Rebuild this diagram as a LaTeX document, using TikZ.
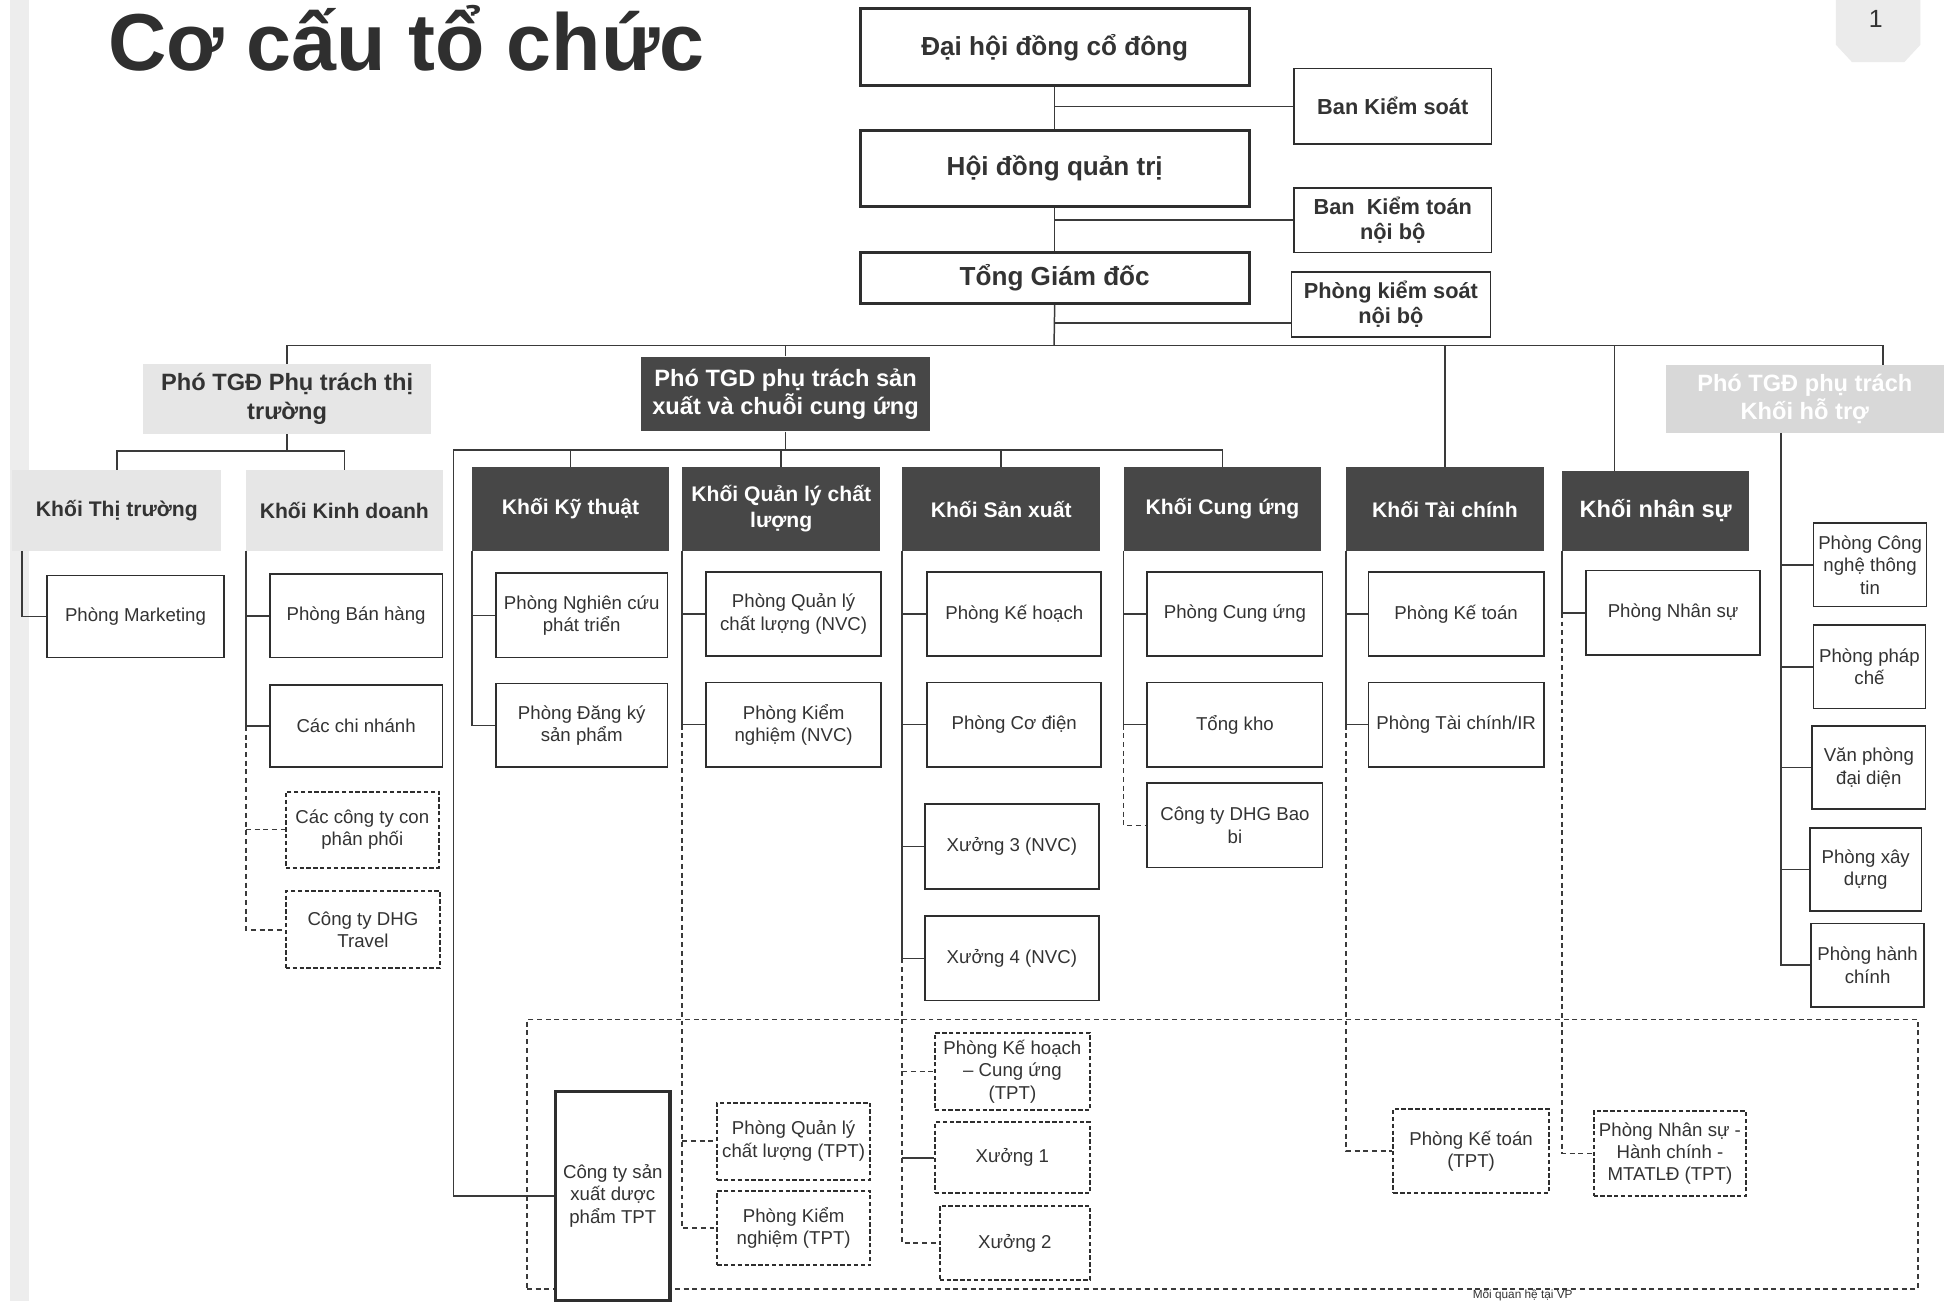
\documentclass[tikz,border=0pt]{standalone}
\usepackage{fontspec}
\setmainfont{Liberation Sans}
\usetikzlibrary{calc}
\definecolor{txt}{HTML}{333333}
\definecolor{titlec}{HTML}{2F2F2F}
\definecolor{boxc}{HTML}{2E2E2E}
\definecolor{linec}{HTML}{3A3A3A}
\definecolor{darkc}{HTML}{474747}
\definecolor{lightc}{HTML}{E6E6E6}
\definecolor{lightc2}{HTML}{D8D8D8}
\definecolor{stripc}{HTML}{EDEDED}
\definecolor{badgec}{HTML}{EBEBEB}
\tikzset{
  spot/.style n args={4}{minimum width={(#3-#1)*1pt}, minimum height={(#4-#2)*1pt}, at={({(#1+#3)/2},{(#2+#4)/2})}},
  ln/.style={draw=linec, line width=1.2pt},
  dln/.style={draw=linec, line width=1.2pt, dash pattern=on 4pt off 3pt},
  basebox/.style={inner sep=0pt, align=center, text=txt, rectangle},
  mainbox/.style={basebox, draw=boxc, line width=2.6pt, fill=white, font=\bfseries\fontsize{21}{25}\selectfont},
  sidebox/.style={basebox, draw=boxc, line width=1.3pt, fill=white, font=\bfseries\fontsize{17.5}{20}\selectfont},
  leaf/.style={basebox, draw=boxc, line width=1.3pt, fill=white, font=\fontsize{15}{18}\selectfont},
  dleaf/.style={leaf, line width=1.6pt, dash pattern=on 3.5pt off 2pt},
  tptbox/.style={leaf, line width=2.6pt},
  zone/.style={draw=linec, line width=1.2pt, dash pattern=on 4pt off 3pt, inner sep=0pt, rectangle},
  darkhead/.style={basebox, fill=darkc, text=white},
  lighthead/.style={basebox, fill=lightc, text=txt},
  lighthead2/.style={basebox, fill=lightc2, text=white},
  kfont/.style={font=\bfseries\fontsize{17}{21}\selectfont},
  phofont/.style={font=\bfseries\fontsize{19}{23}\selectfont},
}
\begin{document}
\begin{tikzpicture}[x=1pt,y=-1pt]
\useasboundingbox (0,0) rectangle (1568,1047);
\fill[white] (0,0) rectangle (1568,1047);
\fill[stripc] (8,0) rectangle (23,1047);
\fill[badgec] (1477,0) -- (1545,0) -- (1545,36) -- (1532,50) -- (1490,50) -- (1477,36) -- cycle;
\node[font=\fontsize{20}{22}\selectfont, text=txt] (pg) at (1509,15) {1};

% title
\node[anchor=base west, inner sep=0pt, font=\bfseries\fontsize{65}{72}\selectfont, text=titlec] (title) at (87,57) {Cơ cấu tổ chức};

% TPT zone
\node[zone, spot={424}{820}{1543}{1037}] (zone) {};

% top
\node[mainbox, spot={692}{7}{1005}{69}] (dh) {Đại hội đồng cổ đông};
\node[mainbox, spot={692}{105}{1005}{166}] (hd) {Hội đồng quản trị};
\node[mainbox, spot={692}{203}{1005}{244}] (tgd) {Tổng Giám đốc};
\node[sidebox, spot={1041}{55}{1200}{116}] (bks) {Ban Kiểm soát};
\node[sidebox, spot={1041}{151}{1200}{203}] (bkt) {Ban~ Kiểm toán\\nội bộ};
\node[sidebox, spot={1039}{219}{1199}{271}] (pks) {Phòng kiểm soát\\nội bộ};

% deputies
\node[lighthead, phofont, spot={115}{293}{347}{349}] (pttt) {Phó TGĐ Phụ trách thị\\trường};
\node[darkhead, phofont, spot={516}{287}{748}{347}] (ptsx) {Phó TGD phụ trách sản\\xuất và chuỗi cung ứng};
\node[lighthead2, phofont, spot={1340}{294}{1564}{348}] (ptht) {Phó TGĐ phụ trách\\Khối hỗ trợ};

% blocks
\node[lighthead, kfont, spot={10}{378}{178}{443}] (ktt) {Khối Thị trường};
\node[lighthead, kfont, spot={198}{378}{356}{443}] (kkd) {Khối Kinh doanh};
\node[darkhead, kfont, spot={380}{376}{538}{443}] (kkt) {Khối Kỹ thuật};
\node[darkhead, kfont, spot={549}{376}{708}{443}] (kql) {Khối Quản lý chất\\lượng};
\node[darkhead, kfont, spot={726}{376}{885}{443}] (ksx) {Khối Sản xuất};
\node[darkhead, kfont, spot={904}{376}{1063}{443}] (kcu) {Khối Cung ứng};
\node[darkhead, kfont, spot={1083}{376}{1242}{443}] (ktc) {Khối Tài chính};
\node[darkhead, font=\bfseries\fontsize{19}{23}\selectfont, spot={1257}{379}{1407}{443}] (kns) {Khối nhân sự};

% leaves
\node[leaf, spot={38}{463}{180}{529}] (mkt) {Phòng Marketing};
\node[leaf, spot={217}{462}{356}{529}] (pbh) {Phòng Bán hàng};
\node[leaf, spot={217}{551}{356}{617}] (ccn) {Các chi nhánh};
\node[dleaf, spot={230}{637}{353}{698}] (ccon) {Các công ty con\\phân phối};
\node[dleaf, spot={230}{717}{354}{779}] (travel) {Công ty DHG\\Travel};
\node[leaf, spot={399}{461}{537}{529}] (pnc) {Phòng Nghiên cứu\\phát triển};
\node[leaf, spot={399}{550}{537}{617}] (pdk) {Phòng Đăng ký\\sản phẩm};
\node[leaf, spot={568}{460}{709}{528}] (pql) {Phòng Quản lý\\chất lượng (NVC)};
\node[leaf, spot={568}{549}{709}{617}] (pkn) {Phòng Kiểm\\nghiệm (NVC)};
\node[leaf, spot={746}{460}{886}{528}] (pkh) {Phòng Kế hoạch};
\node[leaf, spot={746}{549}{886}{617}] (pcd) {Phòng Cơ điện};
\node[leaf, spot={744}{647}{884}{715}] (x3) {Xưởng 3 (NVC)};
\node[leaf, spot={744}{737}{884}{805}] (x4) {Xưởng 4 (NVC)};
\node[leaf, spot={923}{460}{1064}{528}] (pcu) {Phòng Cung ứng};
\node[leaf, spot={923}{549}{1064}{617}] (tk) {Tổng kho};
\node[leaf, spot={923}{630}{1064}{698}] (bb) {Công ty DHG Bao\\bi};
\node[leaf, spot={1101}{460}{1242}{528}] (pkt) {Phòng Kế toán};
\node[leaf, spot={1101}{549}{1242}{617}] (ptc) {Phòng Tài chính/IR};
\node[leaf, spot={1276}{459}{1416}{527}] (pns) {Phòng Nhân sự};
\node[leaf, spot={1459}{421}{1550}{488}] (cntt) {Phòng Công\\nghệ thông\\tin};
\node[leaf, spot={1459}{503}{1549}{570}] (ppc) {Phòng pháp\\chế};
\node[leaf, spot={1458}{584}{1549}{651}] (vpdd) {Văn phòng\\đại diện};
\node[leaf, spot={1456}{666}{1546}{733}] (pxd) {Phòng xây\\dựng};
\node[leaf, spot={1457}{743}{1548}{810}] (phc) {Phòng hành\\chính};

% TPT
\node[tptbox, spot={447}{878}{539}{1046}] (tpt) {Công ty sản\\xuất dược\\phẩm TPT};
\node[dleaf, spot={577}{887}{700}{949}] (pqltpt) {Phòng Quản lý\\chất lượng (TPT)};
\node[dleaf, spot={577}{958}{700}{1018}] (pkntpt) {Phòng Kiểm\\nghiệm (TPT)};
\node[dleaf, spot={752}{831}{877}{893}] (pkhcu) {Phòng Kế hoạch\\– Cung ứng\\(TPT)};
\node[dleaf, spot={752}{903}{877}{960}] (x1) {Xưởng 1};
\node[dleaf, spot={756}{970}{877}{1030}] (x2) {Xưởng 2};
\node[dleaf, spot={1121}{892}{1246}{960}] (pkttpt) {Phòng Kế toán\\(TPT)};
\node[dleaf, spot={1282}{894}{1405}{962}] (pnstpt) {Phòng Nhân sự -\\Hành chính -\\MTATLĐ (TPT)};

\node[anchor=base, inner sep=0pt, font=\fontsize{9.5}{11}\selectfont, text=txt] (note) at (1225,1045) {Mối quan hệ tại VP};

% coordinates
\coordinate (bus) at (848,278);
\coordinate (ttbus) at (231,363);
\coordinate (sxcorner) at (365,362);
\coordinate (pksc) at ([yshift=-15pt]pks.west);
\coordinate (kfall) at ([xshift=8pt]ktt.south west);
\coordinate (nsdrop) at ([xshift=-33pt]kns.north);
\coordinate (htdrop) at ([xshift=63pt]ptht.north);
\coordinate (htdown) at ([xshift=-19pt]ptht.south);

% top connectors
\draw[ln] (dh.south) -- (hd.north);
\draw[ln] (dh.south |- bks.west) -- (bks.west);
\draw[ln] (hd.south) -- (tgd.north);
\draw[ln] (hd.south |- bkt.west) -- (bkt.west);
\draw[ln] (tgd.south) -- (bus);
\draw[ln] (tgd.south |- pksc) -- (pksc);

% main bus
\draw[ln] (pttt.north) |- (bus) -| (htdrop);
\draw[ln] (ptsx.north) -- (ptsx.north |- bus);
\draw[ln] (ktc.north) -- (ktc.north |- bus);
\draw[ln] (nsdrop) -- (nsdrop |- bus);

% market deputy
\draw[ln] (pttt.south) -- (ttbus);
\draw[ln] (ktt.north) |- (ttbus) -| (kkd.north);

% production deputy
\draw[ln] (ptsx.south) -- (ptsx.south |- sxcorner);
\draw[ln] (tpt.west) -| (sxcorner) -| (kcu.north);
\draw[ln] (kkt.north) -- (kkt.north |- sxcorner);
\draw[ln] (kql.north) -- (kql.north |- sxcorner);
\draw[ln] (ksx.north) -- (ksx.north |- sxcorner);

% Khoi Thi truong
\draw[ln] (kfall) |- (mkt.west);
% Khoi Kinh doanh
\draw[ln] (kkd.south west) |- (pbh.west);
\draw[ln] (kkd.south west) |- (ccn.west);
\draw[dln] (kkd.south west |- ccn.west) |- (travel.west);
\draw[dln] (kkd.south west |- ccon.west) -- (ccon.west);
% Khoi Ky thuat
\draw[ln] (kkt.south west) |- (pnc.west);
\draw[ln] (kkt.south west) |- (pdk.west);
% Khoi QLCL
\draw[ln] (kql.south west) |- (pql.west);
\draw[ln] (kql.south west) |- (pkn.west);
\draw[dln] (kql.south west |- pkn.west) |- (pkntpt.west);
\draw[dln] (kql.south west |- pqltpt.west) -- (pqltpt.west);
% Khoi San xuat
\draw[ln] (ksx.south west) |- (pkh.west);
\draw[ln] (ksx.south west) |- (pcd.west);
\draw[ln] (ksx.south west) |- (x3.west);
\draw[ln] (ksx.south west) |- (x4.west);
\draw[dln] (ksx.south west |- x4.west) |- (x2.west);
\draw[dln] (ksx.south west |- pkhcu.west) -- (pkhcu.west);
\draw[ln] (ksx.south west |- x1.west) -- (x1.west);
% Khoi Cung ung
\draw[ln] (kcu.south west) |- (pcu.west);
\draw[ln] (kcu.south west) |- (tk.west);
\draw[dln] (kcu.south west |- tk.west) |- (bb.west);
% Khoi Tai chinh
\draw[ln] (ktc.south west) |- (pkt.west);
\draw[ln] (ktc.south west) |- (ptc.west);
\draw[dln] (ktc.south west |- ptc.west) |- (pkttpt.west);
% Khoi nhan su
\draw[ln] (kns.south west) |- (pns.west);
\draw[dln] (kns.south west |- pns.west) |- (pnstpt.west);
% support deputy
\draw[ln] (htdown) |- (phc.west);
\draw[ln] (htdown |- cntt.west) -- (cntt.west);
\draw[ln] (htdown |- ppc.west) -- (ppc.west);
\draw[ln] (htdown |- vpdd.west) -- (vpdd.west);
\draw[ln] (htdown |- pxd.west) -- (pxd.west);
\end{tikzpicture}
\end{document}
